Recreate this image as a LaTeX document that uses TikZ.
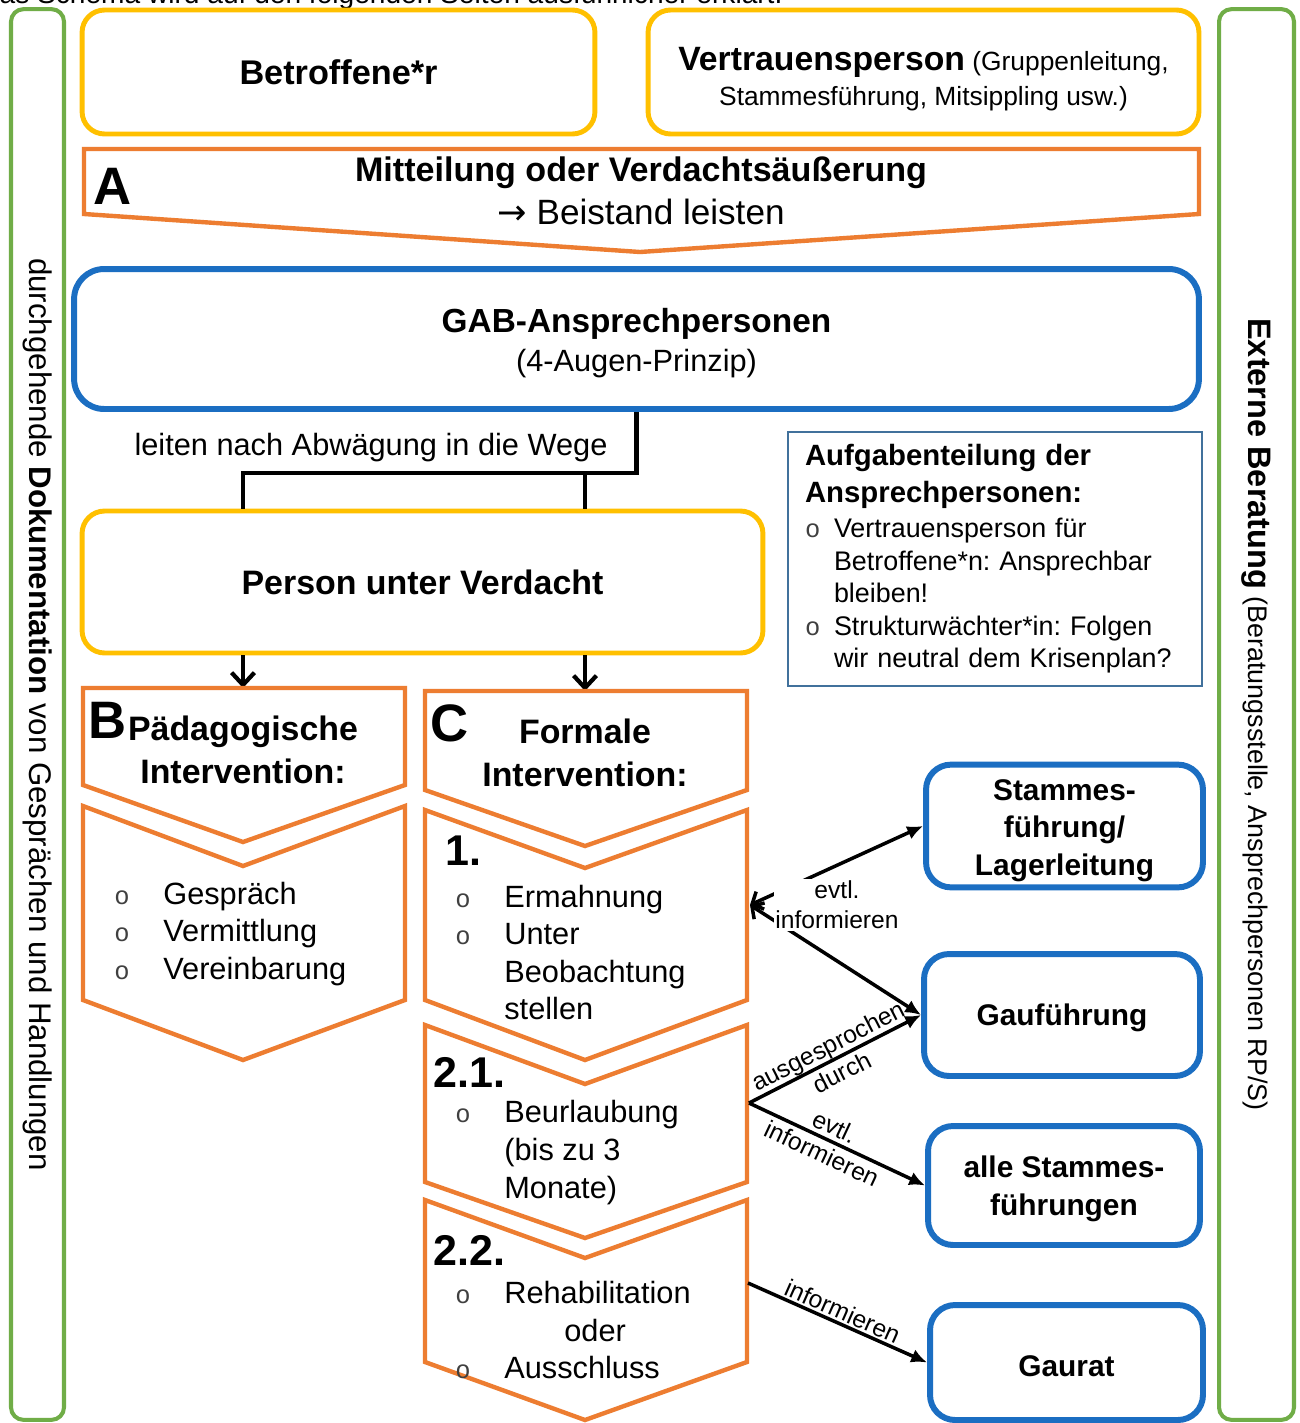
\documentclass[tikz,border=0pt]{standalone}
\usepackage{fontspec}
\setmainfont{Liberation Sans}
\newfontfamily\bulfont{Liberation Mono}
\newfontfamily\symfont{DejaVu Sans}
\usetikzlibrary{arrows.meta}
\definecolor{gruen}{HTML}{70AD47}
\definecolor{gelb}{HTML}{FFC000}
\definecolor{orng}{HTML}{ED7D31}
\definecolor{blau}{HTML}{1B6EC2}
\definecolor{stahl}{HTML}{41719C}
\newcommand{\blt}[1]{\makebox[#1][l]{\bulfont\fontsize{14.5}{15}\selectfont\color{black!75}o}}
\tikzset{%
    gelbbox/.style={draw=gelb,line width=2.8pt,rounded corners=0.45cm,align=center},
    blaubox/.style={draw=blau,line width=3.4pt,rounded corners=0.5cm,align=center,
        font=\fontsize{17}{21.3}\selectfont\bfseries},
    randbox/.style={draw=gruen,line width=2.3pt,rounded corners=0.25cm,rotate=-90,
        minimum width=28.22cm},
    pfeilform/.style={draw=orng,line width=2.5pt},
    txt/.style={inner sep=0pt},
    kopf/.style={txt,align=center,font=\fontsize{19.3}{24.4}\selectfont\bfseries},
    liste/.style={txt,align=left,anchor=west,font=\fontsize{17.5}{21.4}\selectfont},
    buchst/.style={txt,font=\fontsize{30}{30}\selectfont\bfseries},
    nummer/.style={txt,anchor=west,font=\fontsize{24.5}{24.5}\selectfont\bfseries},
    linie/.style={line width=2.8pt},
    runter/.style={line width=2.4pt,-{Straight Barb[length=7pt,width=13pt]}},
    infopfeil/.style={line width=2pt,-{Latex[length=9pt,width=8pt]}},
    beidpfeil/.style={line width=2pt,{Straight Barb[length=5pt,width=11pt]}-{Latex[length=9pt,width=8pt]}},
    klein/.style={align=center,inner sep=1pt,font=\fontsize{14}{17}\selectfont}
}

\begin{document}
\frenchspacing
\begin{tikzpicture}[x=0.02cm,y=-0.02cm]
    \useasboundingbox (0,0) rectangle (1300,1423);
    \fill[white] (0,0) rectangle (1300,1423);
    \node[txt,anchor=base west,font=\fontsize{16}{16}\selectfont] (kopfzeile) at (-21,4)
        {Das Schema wird auf den folgenden Seiten ausführlicher erklärt.};

    \node[randbox,minimum height=1.06cm,font=\fontsize{17.8}{21}\selectfont] (doku) at (37.5,714.5)
        {durchgehende \textbf{Dokumentation} von Gesprächen und Handlungen};
    \node[randbox,minimum height=1.5cm,font=\fontsize{15.3}{19}\selectfont] (extern) at (1256.5,714.5)
        {{\fontsize{18.5}{19}\selectfont\bfseries Externe Beratung} (Beratungsstelle, Ansprechpersonen RP/S)};

    \node[gelbbox,minimum width=10.26cm,minimum height=2.48cm,font=\fontsize{19.5}{24}\selectfont\bfseries] (betr) at (338.5,72) {Betroffene*r};
    \node[gelbbox,minimum width=11.02cm,minimum height=2.48cm,font=\fontsize{15}{20}\selectfont] (vert) at (923.5,72)
        {\rule{0pt}{21pt}{\fontsize{19.2}{20}\selectfont\bfseries Vertrauensperson} (Gruppenleitung,\\Stammesführung, Mitsippling usw.)};

    \draw[pfeilform] (84,149) -- (1199,149) -- (1199,214) -- (640,252) -- (84,214) -- cycle;
    \node[buchst] (a) at (113,186) {A};
    \node[txt,anchor=base,font=\fontsize{19.4}{24}\selectfont\bfseries] (mitt) at (641,181) {Mitteilung oder Verdachtsäußerung};
    \node[txt,anchor=base,font=\fontsize{20}{24}\selectfont] (beist) at (641,224) {{\symfont →} Beistand leisten};

    \node[blaubox,rounded corners=0.6cm,minimum width=22.5cm,minimum height=2.8cm,font=\fontsize{17.5}{22}\selectfont] (gab) at (636.5,339)
        {\rule{0pt}{18.5pt}{\fontsize{19}{22}\selectfont\bfseries GAB-Ansprechpersonen}\\(4-Augen-Prinzip)};

    \node[gelbbox,minimum width=13.62cm,minimum height=2.84cm,font=\fontsize{19.3}{24}\selectfont\bfseries] (person) at (422.5,582) {Person unter Verdacht};

    \coordinate (jB) at (243,473);
    \coordinate (jC) at (585,473);
    \draw[linie] (gab.south) |- (jB) -- (jB |- person.north);
    \draw[linie] (jC) -- (jC |- person.north);
    % \draw[linie] (gab.south) -- (gab.south |- jB);
    \node[txt,anchor=base,font=\fontsize{17.5}{21}\selectfont] (wege) at (371,455) {leiten nach Abwägung in die Wege};

    \node[draw=stahl,line width=1.4pt,text width=7.6cm,inner xsep=0.34cm,minimum height=5.08cm,align=left,font=\fontsize{15.3}{18.5}\selectfont] (aufg) at (995,559)
        {{\fontsize{16.7}{21}\selectfont\bfseries Aufgabenteilung der}\\[2.5pt]
         {\fontsize{16.7}{21}\selectfont\bfseries Ansprechpersonen:}\\[1.3pt]
         \blt{0.58cm}Vertrauensperson für\\
         \hspace*{0.58cm}Betroffene*n: Ansprechbar\\
         \hspace*{0.58cm}bleiben!\\
         \blt{0.58cm}Strukturwächter*in: Folgen\\
         \hspace*{0.58cm}wir neutral dem Krisenplan?};

    \coordinate (bT) at (243,688);
    \coordinate (cT) at (585,691);
    \draw[runter] (person.south -| bT) -- (bT);
    \draw[runter] (person.south -| cT) -- (cT);

    \draw[pfeilform] (83,688) -- (405,688) -- (405,785) -- (243,842) -- (83,785) -- cycle;
    \draw[pfeilform] (83,806) -- (243,866) -- (405,806) -- (405,1000) -- (243,1060) -- (83,1000) -- cycle;
    \node[buchst] (b) at (108,720) {B};
    \node[kopf] (paed) at (243,750) {Pädagogische\\Intervention:};
    \node[liste] (bliste) at (114,934)
        {\blt{0.98cm}Gespräch\\
         \blt{0.98cm}Vermittlung\\
         \blt{0.98cm}Vereinbarung};

    \draw[pfeilform] (425,691) -- (747,691) -- (747,790) -- (585,846) -- (425,790) -- cycle;
    \draw[pfeilform] (425,810) -- (585,868) -- (747,810) -- (747,1000) -- (585,1060) -- (425,1000) -- cycle;
    \draw[pfeilform] (425,1025) -- (585,1084) -- (747,1025) -- (747,1182) -- (585,1238) -- (425,1182) -- cycle;
    \draw[pfeilform] (425,1200) -- (585,1258) -- (747,1200) -- (747,1362) -- (585,1420) -- (425,1362) -- cycle;
    \node[buchst] (c) at (450,723) {C};
    \node[kopf] (formal) at (585,753) {Formale\\Intervention:};
    \node[nummer] (n1) at (445,851) {1.};
    \node[liste] (cliste1) at (455,952.5)
        {\blt{0.98cm}Ermahnung\\
         \blt{0.98cm}Unter\\
         \hspace*{0.98cm}Beobachtung\\
         \hspace*{0.98cm}stellen};
    \node[nummer] (n21) at (433,1072) {2.1.};
    \node[liste] (cliste21) at (455,1152.5)
        {\blt{0.98cm}Beurlaubung\\
         \hspace*{0.98cm}(bis zu 3\\
         \hspace*{0.98cm}Monate)};
    \node[nummer] (n22) at (433,1250) {2.2.};
    \node[liste] (cliste22) at (455,1330)
        {\blt{0.98cm}Rehabilitation\\
         \hspace*{2.18cm}oder\\
         \blt{0.98cm}Ausschluss};

    \node[blaubox,minimum width=5.54cm,minimum height=2.44cm] (stamm) at (1064.5,826) {\rule{0pt}{17pt}Stammes-\\führung/\\Lagerleitung};
    \node[blaubox,minimum width=5.52cm,minimum height=2.44cm] (gau) at (1062,1015) {\rule{0pt}{16pt}Gauführung};
    \node[blaubox,minimum width=5.44cm,minimum height=2.38cm] (alle) at (1064,1185.5) {\rule{0pt}{16pt}alle Stammes-\\führungen};
    \node[blaubox,minimum width=5.46cm,minimum height=2.3cm] (gaurat) at (1066.5,1362.5) {\rule{0pt}{16pt}Gaurat};

    \coordinate (c1r) at (750,905);
    \coordinate (c21r) at (749,1103);
    \coordinate (c22r) at (748,1283);
    \draw[beidpfeil] (c1r) -- (stamm.west);
    \draw[beidpfeil] (c1r) -- (gau.west);
    \node[klein,fill=white] (evtl1) at (837,905) {evtl.\\informieren};
    \draw[infopfeil] (c21r) -- node[klein,sloped] (ausg) {ausgesprochen\\durch} (gau.west);
    \draw[infopfeil] (c21r) -- node[klein,sloped,pos=0.45] (evtl2) {evtl.\\informieren} (alle.west);
    \draw[infopfeil] (c22r) -- node[klein,sloped,above] (info3) {informieren} (gaurat.west);
    % \draw[infopfeil] (c22r) -- (gau.west);
\end{tikzpicture}
\end{document}
